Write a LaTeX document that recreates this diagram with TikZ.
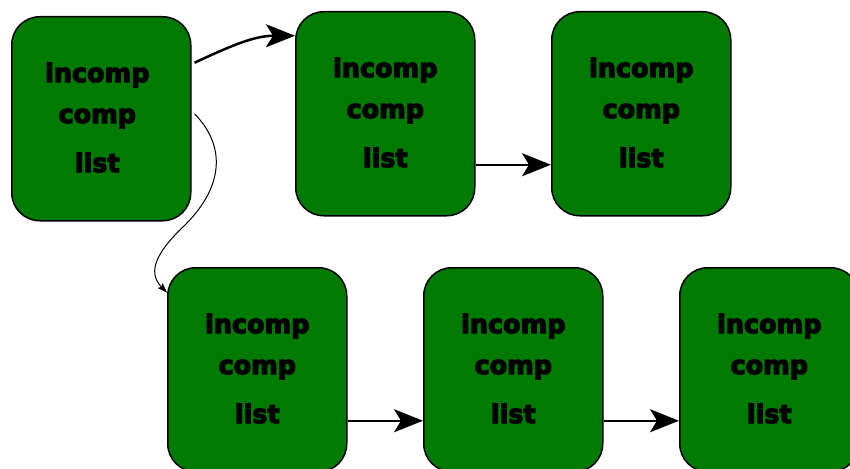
\documentclass[tikz,border=0pt]{standalone}
\usepackage{fontspec}
\setmainfont{DejaVu Sans}
\newfontfamily\heavyfont{DejaVu Sans Bold}[FakeBold=4.5]
\usetikzlibrary{arrows.meta}
\definecolor{boxgreen}{RGB}{0,122,0}
\tikzset{
  cellbox/.style={draw=black, line width=1.5pt, fill=boxgreen, rounded corners=28pt,
    minimum width=179pt, minimum height=204pt, inner sep=0pt, anchor=north west},
  celltext/.style={anchor=base, inner sep=0pt, font=\fontsize{25.5}{30}\heavyfont},
  bigarrow/.style={line width=2pt, -{Stealth[length=29pt,width=23pt,inset=7pt]}},
  thinarrow/.style={line width=1pt, -{Stealth[length=10pt,width=7pt,inset=2pt]}}
}
% one record box with its three fields
\newcommand{\cellrec}[4]{%
  \node[cellbox] (#1) at (#2,#3) {};
  \node[celltext] (#1-a) at ([xshift=#4]#1.north) [yshift=-66pt] {incomp};
  \node[celltext] (#1-b) at ([xshift=#4]#1.north) [yshift=-107pt] {comp};
  \node[celltext] (#1-c) at ([xshift=#4]#1.north) [yshift=-156pt] {list};
}
\begin{document}
\begin{tikzpicture}[x=1pt, y=-1pt]
  \useasboundingbox (0,0) rectangle (850,468);
  \cellrec{A}{11}{16}{-4pt}
  \cellrec{B}{295}{11}{0pt}
  \cellrec{C}{551}{11}{0pt}
  \cellrec{D}{167}{267}{0pt}
  \cellrec{E}{423}{267}{0pt}
  \cellrec{F}{679}{267}{0pt}
  % connectors
  \draw[line width=2.5pt, -{Stealth[length=29pt,width=23pt,inset=7pt]}]
    ([xshift=3pt,yshift=56pt]A.east) to[out=25, in=180] ([yshift=78pt]B.west);
  \draw[thinarrow] ([xshift=3pt,yshift=5pt]A.east)
    .. controls (225,145) and (225,185) .. (185,225)
    .. controls (150,258) and (150,275) .. ([yshift=77pt]D.west);
  \draw[bigarrow] ([yshift=-51pt]B.east) -- ([yshift=-51pt]C.west);
  \draw[bigarrow] ([yshift=-51pt]D.east) -- ([yshift=-51pt]E.west);
  \draw[bigarrow] ([yshift=-51pt]E.east) -- ([yshift=-51pt]F.west);
\end{tikzpicture}
\end{document}
